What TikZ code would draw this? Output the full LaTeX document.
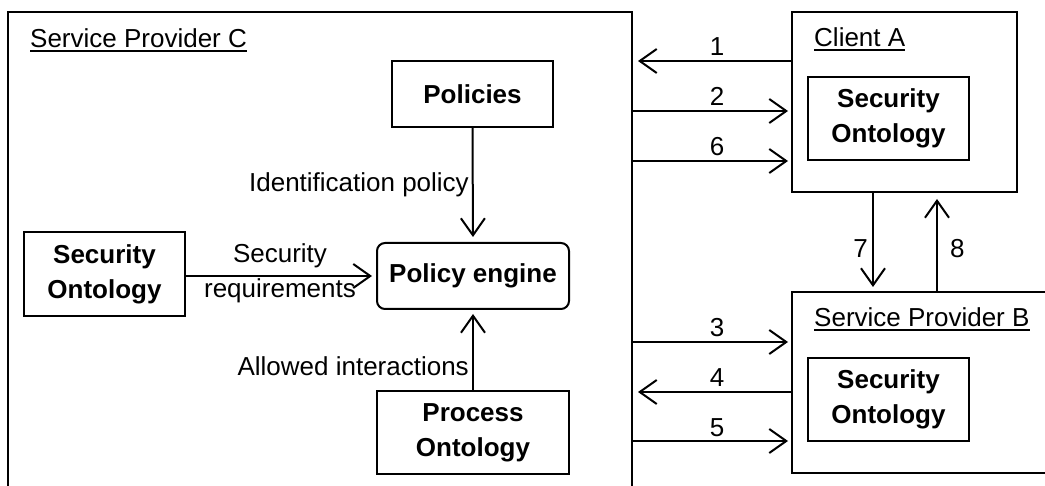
\documentclass[tikz,border=0pt]{standalone}
\usepackage{fontspec}
\setmainfont{Liberation Sans}
\usetikzlibrary{arrows.meta}
\begin{document}
\begin{tikzpicture}[x=1pt,y=-1pt,
  frame/.style={draw,line width=2pt,inner sep=0pt},
  box/.style={draw,line width=2pt,inner sep=0pt,align=center,
    font=\bfseries\fontsize{26}{35}\selectfont},
  title/.style={inner sep=0pt,anchor=base west,font=\fontsize{26}{35}\selectfont},
  lbl/.style={inner sep=0pt,font=\fontsize{26}{35}\selectfont},
  arr/.style={line width=2pt,-{Straight Barb[length=17pt,width=24pt]}},
  uline/.style={line width=1.2pt},
]
\useasboundingbox (0,0) rectangle (1045,486);
\clip (0,0) rectangle (1045,486);

% outer frames (C and B run past the page edge)
\node[frame,minimum width=624pt,minimum height=508pt] (spC) at (320,266) {};
\node[frame,minimum width=225pt,minimum height=180pt] (cliA) at (904.5,102) {};
\node[frame,minimum width=278pt,minimum height=181pt] (spB) at (931,382.5) {};

% frame titles
\node[title] (tC) at (30,48) {Service Provider C};
\draw[uline] ([yshift=-3pt]tC.base west) -- ([yshift=-3pt]tC.base east);
\node[title] (tA) at (814,47) {Client A};
\draw[uline] ([yshift=-3pt]tA.base west) -- ([yshift=-3pt]tA.base east);
\node[title] (tB) at (814,327) {Service Provider B};
\draw[uline] ([yshift=-3pt]tB.base west) -- ([yshift=-3pt]tB.base east);

% inner boxes
\node[box,minimum width=161pt,minimum height=83pt] (soA) at (888.5,118.5) {Security\\Ontology};
\node[box,minimum width=161pt,minimum height=83pt] (soB) at (888.5,399.5) {Security\\Ontology};
\node[box,minimum width=161pt,minimum height=84pt] (soC) at (104.5,274) {Security\\Ontology};
\node[box,minimum width=161pt,minimum height=66pt] (pol) at (472.5,94) {Policies};
\node[box,rounded corners=8pt,minimum width=192pt,minimum height=66pt] (eng) at (473,276) {Policy engine};
\node[box,minimum width=192pt,minimum height=83pt] (proc) at (473,432.5) {Process\\Ontology};

% connectors inside C
\draw[arr,shorten >=5pt] (pol.south) -- (eng.north);
\draw[arr,shorten >=4pt] (proc.north) -- (eng.south);
\draw[arr,shorten >=4pt] (soC.east |- eng.west) -- (eng.west);

\node[lbl,anchor=base east] (lpol) at (469,192) {Identification policy};
\node[lbl,anchor=base] (lsec1) at (280,263) {Security};
\node[lbl,anchor=base] (lsec2) at (280,298) {requirements};
\node[lbl,anchor=base east] (lproc) at (469,376) {Allowed interactions};

% messages between the parties
\coordinate (y1) at (0,61);
\coordinate (y2) at (0,111);
\coordinate (y6) at (0,161);
\coordinate (y3) at (0,342);
\coordinate (y4) at (0,392);
\coordinate (y5) at (0,441);
\draw[arr,shorten >=5pt] (cliA.west |- y1) -- (spC.east |- y1);
\draw[arr,shorten >=3pt] (spC.east |- y2) -- (cliA.west |- y2);
\draw[arr,shorten >=3pt] (spC.east |- y6) -- (cliA.west |- y6);
\draw[arr,shorten >=3pt] (spC.east |- y3) -- (spB.west |- y3);
\draw[arr,shorten >=5pt] (spB.west |- y4) -- (spC.east |- y4);
\draw[arr,shorten >=3pt] (spC.east |- y5) -- (spB.west |- y5);

\coordinate (x7) at (873,0);
\coordinate (x8) at (937,0);
\draw[arr,shorten >=4pt] (cliA.south -| x7) -- (spB.north -| x7);
\draw[arr,shorten >=6pt] (spB.north -| x8) -- (cliA.south -| x8);

\node[lbl,anchor=base] (n1) at (717,56) {1};
\node[lbl,anchor=base] (n2) at (717,106) {2};
\node[lbl,anchor=base] (n6) at (717,156) {6};
\node[lbl,anchor=base] (n3) at (717,337) {3};
\node[lbl,anchor=base] (n4) at (717,387) {4};
\node[lbl,anchor=base] (n5) at (717,436) {5};
\node[lbl,anchor=base east] (n7) at (868,258) {7};
\node[lbl,anchor=base west] (n8) at (950,258) {8};
\end{tikzpicture}
\end{document}
